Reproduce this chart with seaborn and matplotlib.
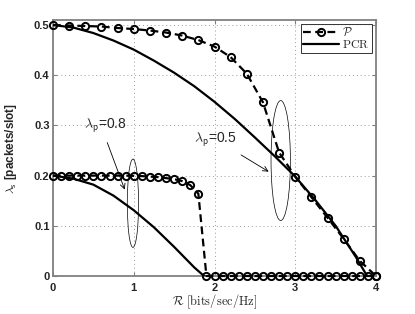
import matplotlib
matplotlib.use('Agg')
import numpy as np
import pandas as pd
import matplotlib.pyplot as plt
from matplotlib.patches import Ellipse
import seaborn as sns

sns.set_style('white')
plt.rcParams['font.family'] = ['Liberation Sans', 'DejaVu Sans']
plt.rcParams['mathtext.fontset'] = 'cm'

# P curve, lambda_p = 0.8 (markers every 0.1)
r_p08 = [0.0, 0.1, 0.2, 0.3, 0.4, 0.5, 0.6, 0.7, 0.8, 0.9, 1.0, 1.1, 1.2, 1.3, 1.4, 1.5, 1.6, 1.7, 1.8,
         1.9, 2.0, 2.1, 2.2, 2.3, 2.4, 2.5, 2.6, 2.7, 2.8, 2.9, 3.0, 3.1, 3.2, 3.3, 3.4, 3.5, 3.6, 3.7,
         3.8, 3.9, 4.0]
ls_p08 = [0.200, 0.200, 0.200, 0.200, 0.200, 0.200, 0.200, 0.200, 0.200, 0.200, 0.1995, 0.199, 0.198,
          0.197, 0.195, 0.193, 0.189, 0.181, 0.164,
          0, 0, 0, 0, 0, 0, 0, 0, 0, 0, 0, 0, 0, 0, 0, 0, 0, 0, 0, 0, 0, 0]

# P curve, lambda_p = 0.5 (markers every 0.2)
r_p05 = [0.0, 0.2, 0.4, 0.6, 0.8, 1.0, 1.2, 1.4, 1.6, 1.8, 2.0, 2.2, 2.4, 2.6, 2.8, 3.0, 3.2, 3.4, 3.6,
         3.8, 4.0]
ls_p05 = [0.500, 0.499, 0.498, 0.497, 0.494, 0.492, 0.489, 0.485, 0.479, 0.470, 0.457, 0.436, 0.403,
          0.346, 0.246, 0.198, 0.157, 0.116, 0.074, 0.030, 0.0]

# PCR curves
r_pcr08 = [0.0, 0.25, 0.5, 0.75, 1.0, 1.25, 1.5, 1.75, 1.87]
ls_pcr08 = [0.200, 0.194, 0.182, 0.160, 0.131, 0.097, 0.058, 0.017, 0.0]

r_pcr05 = [0.0, 0.25, 0.5, 0.75, 1.0, 1.25, 1.5, 1.75, 2.0, 2.25, 2.5, 2.75, 3.0, 3.25, 3.5, 3.75, 3.89]
ls_pcr05 = [0.500, 0.495, 0.484, 0.469, 0.451, 0.429, 0.405, 0.378, 0.347, 0.313, 0.276, 0.238, 0.198,
            0.151, 0.100, 0.038, 0.0]

fig = plt.figure(figsize=(4.15, 3.14), dpi=100)
ax = fig.add_axes([53 / 415, 1 - 276 / 314, (376 - 53) / 415, (276 - 20) / 314])

dash_kw = dict(color='black', lw=1.6, linestyle=(0, (3.5, 2)), marker='o', markersize=5.2,
               markerfacecolor='none', markeredgecolor='black', markeredgewidth=1.4, clip_on=False,
               zorder=3)
solid_kw = dict(color='black', lw=1.6)

sns.lineplot(x=r_p05, y=ls_p05, ax=ax, estimator=None, sort=False, label=r'$\mathcal{P}$', **dash_kw)
sns.lineplot(x=r_pcr05, y=ls_pcr05, ax=ax, estimator=None, sort=False, label=r'$\mathrm{PCR}$', **solid_kw)
sns.lineplot(x=r_p08, y=ls_p08, ax=ax, estimator=None, sort=False, **dash_kw)
sns.lineplot(x=r_pcr08, y=ls_pcr08, ax=ax, estimator=None, sort=False, **solid_kw)

ax.set_xlim(0, 4)
ax.set_ylim(0, 0.51)
ax.set_xticks([0, 1, 2, 3, 4])
ax.set_yticks([0, 0.1, 0.2, 0.3, 0.4, 0.5])
ax.set_xticklabels(['0', '1', '2', '3', '4'])
ax.set_yticklabels(['0', '0.1', '0.2', '0.3', '0.4', '0.5'])
ax.grid(True, color='#9a9a9a', linestyle=(0, (1, 3)), lw=0.7)
for lab in ax.get_xticklabels() + ax.get_yticklabels():
    lab.set_fontweight('bold')
    lab.set_fontsize(8)
ax.tick_params(direction='in', length=3, width=0.8, color='#808080', top=True, right=True,
               bottom=True, left=True)
ax.tick_params(axis='x', pad=5)
ax.tick_params(axis='y', pad=2.5)
for s in ax.spines.values():
    s.set_color('#808080')
    s.set_linewidth(1.3)
    s.set_zorder(1)

ax.set_xlabel(r'$\mathcal{R}\ \mathrm{[bits/sec/Hz]}$', fontsize=9)
ax.xaxis.set_label_coords(0.5, -0.063)
ax.set_ylabel(r'$\lambda_{\mathsf{s}}$ [packets/slot]', fontsize=8.5, fontweight='bold')
ax.yaxis.set_label_coords(-0.104, 0.5)

# annotations
ax.add_patch(Ellipse((0.99, 0.145), 0.14, 0.176, fill=False, ec='black', lw=0.5))
ax.add_patch(Ellipse((2.82, 0.230), 0.24, 0.239, fill=False, ec='black', lw=0.5))
ax.text(0.39, 0.293, r'$\lambda_\mathsf{p}$=0.8', fontsize=10)
ax.text(1.75, 0.266, r'$\lambda_\mathsf{p}$=0.5', fontsize=10)
ax.annotate('', xy=(0.90, 0.167), xytext=(0.66, 0.271),
            arrowprops=dict(arrowstyle='->', color='black', lw=0.6, mutation_scale=9))
ax.annotate('', xy=(2.70, 0.205), xytext=(2.30, 0.244),
            arrowprops=dict(arrowstyle='->', color='black', lw=0.6, mutation_scale=9))

leg = ax.legend(loc='upper right', fontsize=8.5, frameon=True, fancybox=False, borderpad=0.2,
                labelspacing=0.0, handlelength=3.0, handletextpad=0.3, borderaxespad=0.35)
leg.get_frame().set_edgecolor('black')
leg.get_frame().set_linewidth(0.7)
leg.set_zorder(5)

fig.savefig('out.png', dpi=100)
